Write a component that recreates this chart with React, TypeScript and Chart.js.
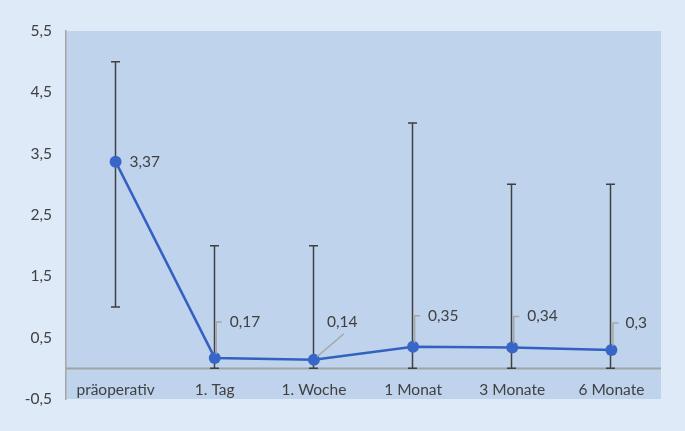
import React, { useEffect, useRef } from "react";
import { Chart, registerables } from "chart.js";

Chart.register(...registerables);

const categories = ["präoperativ", "1. Tag", "1. Woche", "1 Monat", "3 Monate", "6 Monate"];
const meanValues = [3.37, 0.17, 0.14, 0.35, 0.34, 0.3];
const minValues = [1, 0, 0, 0, 0, 0];
const maxValues = [5, 2, 2, 4, 3, 3];
const yTickValues = [-0.5, 0.5, 1.5, 2.5, 3.5, 4.5, 5.5];

const TEXT = "#404040";
const FONT = "15.5px Lato, 'Open Sans', sans-serif";

// label placement style: [dx, dy] of label left/middle relative to point, and leader type
const labelStyle = [
  { dx: 14, dy: 0, leader: "none" },
  { dx: 15, dy: -36, leader: "elbow" },
  { dx: 13, dy: -38, leader: "diag" },
  { dx: 15, dy: -31, leader: "elbow" },
  { dx: 15, dy: -31, leader: "elbow" },
  { dx: 14, dy: -27, leader: "elbow" },
];

const fmt = (v: number) => String(v).replace(".", ",");

const decorPlugin = {
  id: "decor",
  beforeDraw(chart: any) {
    const { ctx, chartArea } = chart;
    ctx.save();
    ctx.fillStyle = "#deeaf8";
    ctx.fillRect(0, 0, chart.width, chart.height);
    ctx.fillStyle = "#bfd3ec";
    ctx.fillRect(chartArea.left, chartArea.top, chartArea.right - chartArea.left, chartArea.bottom - chartArea.top);
    ctx.restore();
  },
  beforeDatasetsDraw(chart: any) {
    const { ctx, chartArea, scales } = chart;
    const x = scales.x;
    const y = scales.y;
    ctx.save();
    // zero line
    ctx.strokeStyle = "#a3a3a3";
    ctx.lineWidth = 2;
    const y0 = Math.round(y.getPixelForValue(0)) + 0.5;
    ctx.beginPath();
    ctx.moveTo(chartArea.left, y0);
    ctx.lineTo(chartArea.right, y0);
    ctx.stroke();
    // category labels inside plot area
    ctx.fillStyle = TEXT;
    ctx.font = FONT;
    ctx.textAlign = "center";
    ctx.textBaseline = "middle";
    categories.forEach((c, i) => {
      ctx.fillText(c, x.getPixelForValue(i), y.getPixelForValue(-0.5) - 9);
    });
    // error bars
    ctx.strokeStyle = "#404040";
    ctx.lineWidth = 1.5;
    categories.forEach((_, i) => {
      const px = Math.round(x.getPixelForValue(i)) - 0.5;
      const top = y.getPixelForValue(maxValues[i]);
      const bot = y.getPixelForValue(minValues[i]);
      ctx.beginPath();
      ctx.moveTo(px, top);
      ctx.lineTo(px, bot);
      ctx.moveTo(px - 4.5, top);
      ctx.lineTo(px + 4.5, top);
      ctx.moveTo(px - 4.5, bot);
      ctx.lineTo(px + 4.5, bot);
      ctx.stroke();
    });
    ctx.restore();
  },
  afterDatasetsDraw(chart: any) {
    const { ctx } = chart;
    const meta = chart.getDatasetMeta(0);
    ctx.save();
    ctx.font = FONT;
    ctx.textBaseline = "middle";
    ctx.textAlign = "left";
    meta.data.forEach((pt: any, i: number) => {
      const s = labelStyle[i];
      const lx = pt.x + s.dx;
      const ly = pt.y + s.dy;
      ctx.strokeStyle = "#a6a6a6";
      ctx.lineWidth = 1.5;
      if (s.leader === "elbow") {
        ctx.beginPath();
        ctx.moveTo(pt.x + 1.5, pt.y - 4);
        ctx.lineTo(pt.x + 1.5, ly);
        ctx.lineTo(pt.x + 7, ly);
        ctx.stroke();
      } else if (s.leader === "diag") {
        ctx.beginPath();
        ctx.moveTo(pt.x + 3, pt.y - 3);
        ctx.lineTo(pt.x + 30, ly + 12);
        ctx.stroke();
      }
      ctx.fillStyle = TEXT;
      ctx.fillText(fmt(meanValues[i]), lx, ly);
    });
    ctx.restore();
  },
};

export default function App() {
  const ref = useRef<HTMLCanvasElement | null>(null);
  useEffect(() => {
    document.body.style.margin = "0";
    const chart = new Chart(ref.current as HTMLCanvasElement, {
      type: "line",
      data: {
        labels: categories,
        datasets: [
          {
            data: meanValues,
            borderColor: "#3461c1",
            backgroundColor: "#3461c1",
            borderWidth: 2.5,
            pointRadius: 6,
            pointHoverRadius: 6,
            pointBackgroundColor: "#3866c6",
            pointBorderWidth: 0,
            tension: 0,
          },
        ],
      },
      options: {
        animation: false,
        responsive: false,
        layout: { padding: { left: 0, right: 24, top: 31, bottom: 32 } },
        plugins: { legend: { display: false }, tooltip: { enabled: false } },
        scales: {
          x: {
            type: "category",
            offset: true,
            display: false,
          },
          y: {
            min: -0.5,
            max: 5.5,
            afterBuildTicks: (scale: any) => {
              scale.ticks = yTickValues.map((v) => ({ value: v }));
            },
            afterFit: (scale: any) => {
              scale.width = 66;
            },
            grid: { display: false },
            border: { display: true, color: "#a6a6a6", width: 1.5 },
            ticks: {
              padding: 6,
              color: TEXT,
              font: { family: "Lato, 'Open Sans', sans-serif", size: 15.5 },
              callback: (v: any) => fmt(Number(v)),
            },
          },
        },
      },
      plugins: [decorPlugin],
    });
    return () => chart.destroy();
  }, []);
  return <canvas ref={ref} width={685} height={431} style={{ display: "block" }} />;
}
